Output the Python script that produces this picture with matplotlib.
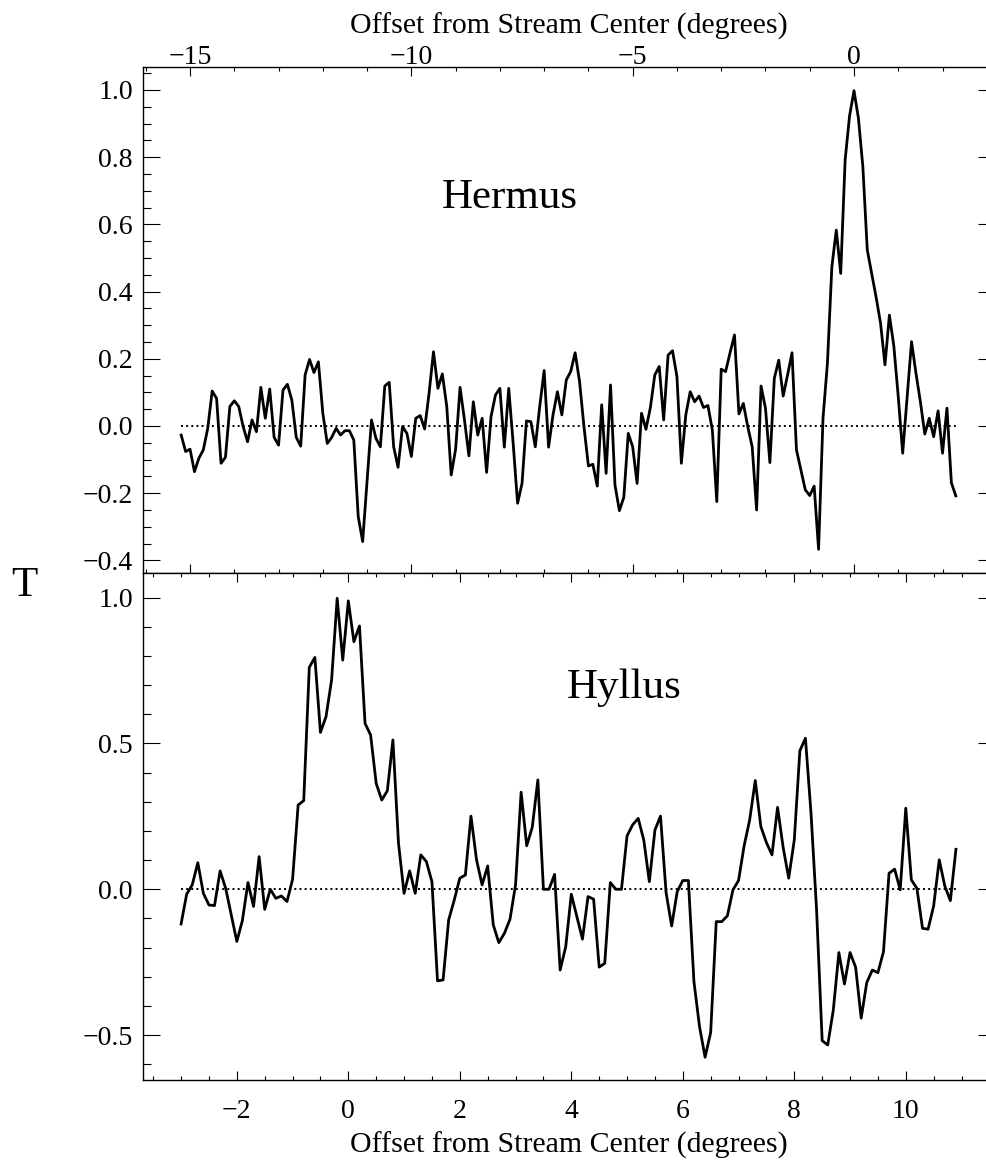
import numpy as np
import matplotlib
matplotlib.use("Agg")
import matplotlib.pyplot as plt
from matplotlib.ticker import MultipleLocator

plt.rcParams['font.family'] = ['Liberation Serif', 'DejaVu Serif']
plt.rcParams['font.size'] = 20

# 采样: 每 0.1 度一个点
hermus_x0, hermus_dx = -15.2, 0.1
hyllus_x0, hyllus_dx = -3.0, 0.1

# Hermus 剖面 (上图)
hermus_t = [-0.027, -0.076, -0.069, -0.136, -0.096, -0.071, -0.007, 0.104, 0.082, -0.111,
            -0.093, 0.058, 0.075, 0.058, -0.002, -0.047, 0.018, -0.017, 0.115, 0.023,
            0.110, -0.034, -0.057, 0.107, 0.124, 0.077, -0.034, -0.060, 0.152, 0.198,
            0.159, 0.191, 0.038, -0.052, -0.034, -0.007, -0.027, -0.014, -0.014, -0.042,
            -0.270, -0.344, -0.161, 0.018, -0.037, -0.062, 0.119, 0.130, -0.062, -0.123,
            -0.002, -0.022, -0.091, 0.023, 0.031, -0.009, 0.097, 0.221, 0.112, 0.155,
            0.058, -0.146, -0.069, 0.115, 0.018, -0.089, 0.072, -0.027, 0.023, -0.138,
            0.028, 0.092, 0.112, -0.063, 0.112, -0.052, -0.230, -0.171, 0.015, 0.013,
            -0.062, 0.058, 0.165, -0.063, 0.033, 0.102, 0.033, 0.137, 0.162, 0.218,
            0.132, -0.002, -0.119, -0.114, -0.179, 0.063, -0.141, 0.122, -0.176, -0.252,
            -0.212, -0.022, -0.062, -0.171, 0.038, -0.010, 0.055, 0.152, 0.177, 0.018,
            0.211, 0.224, 0.147, -0.111, 0.033, 0.102, 0.072, 0.089, 0.055, 0.061,
            -0.012, -0.225, 0.169, 0.162, 0.218, 0.271, 0.036, 0.067, -0.002, -0.062,
            -0.250, 0.119, 0.053, -0.109, 0.142, 0.196, 0.089, 0.152, 0.218, -0.071,
            -0.131, -0.190, -0.207, -0.179, -0.367, 0.023, 0.187, 0.474, 0.583, 0.454,
            0.792, 0.923, 0.998, 0.916, 0.772, 0.524, 0.454, 0.383, 0.306, 0.182,
            0.330, 0.238, 0.087, -0.081, 0.087, 0.251, 0.157, 0.072, -0.024, 0.023,
            -0.032, 0.045, -0.081, 0.053, -0.169, -0.208]

# Hyllus 剖面 (下图)
hyllus_t = [-0.119, -0.017, 0.015, 0.091, -0.014, -0.054, -0.056, 0.063, 0.003, -0.088,
            -0.179, -0.107, 0.023, -0.059, 0.112, -0.069, 0.000, -0.031, -0.023, -0.042,
            0.034, 0.289, 0.304, 0.761, 0.795, 0.538, 0.592, 0.718, 0.998, 0.786,
            0.989, 0.849, 0.903, 0.569, 0.529, 0.363, 0.306, 0.338, 0.512, 0.158,
            -0.014, 0.063, -0.014, 0.118, 0.095, 0.026, -0.314, -0.311, -0.105, -0.037,
            0.038, 0.049, 0.251, 0.101, 0.015, 0.080, -0.122, -0.183, -0.151, -0.103,
            0.015, 0.333, 0.149, 0.213, 0.375, 0.000, 0.000, 0.051, -0.277, -0.197,
            -0.017, -0.094, -0.171, -0.025, -0.034, -0.267, -0.254, 0.023, 0.000, 0.000,
            0.183, 0.221, 0.243, 0.169, 0.026, 0.203, 0.251, -0.011, -0.126, -0.008,
            0.030, 0.030, -0.317, -0.471, -0.576, -0.491, -0.111, -0.111, -0.091, -0.002,
            0.030, 0.149, 0.238, 0.373, 0.215, 0.160, 0.118, 0.281, 0.144, 0.038,
            0.169, 0.475, 0.518, 0.261, -0.071, -0.519, -0.534, -0.414, -0.217, -0.325,
            -0.217, -0.267, -0.442, -0.320, -0.277, -0.286, -0.214, 0.055, 0.069, -0.002,
            0.278, 0.032, 0.003, -0.134, -0.137, -0.057, 0.101, 0.011, -0.039, 0.137]

hermus_x = np.round(hermus_x0 + hermus_dx * np.arange(len(hermus_t)), 2)
hyllus_x = np.round(hyllus_x0 + hyllus_dx * np.arange(len(hyllus_t)), 2)

xlabel = 'Offset from Stream Center (degrees)'

fig = plt.figure(figsize=(9.86, 11.62), dpi=100)
ax1 = fig.add_axes([0.1447, 0.5069, 0.8644, 0.4352])
ax2 = fig.add_axes([0.1447, 0.0706, 0.8644, 0.4363])

# 上图: Hermus, x 轴标签在上方
ax1.plot(hermus_x, hermus_t, color='black', lw=2.0)
ax1.hlines(0, hermus_x[0], hermus_x[-1], colors='black', linestyles=':', lw=1.4)
ax1.set_xlim(-16.07, 3.185)
ax1.set_ylim(-0.4375, 1.0676)
ax1.xaxis.set_major_locator(MultipleLocator(5))
ax1.xaxis.set_minor_locator(MultipleLocator(1))
ax1.yaxis.set_major_locator(MultipleLocator(0.2))
ax1.yaxis.set_minor_locator(MultipleLocator(0.05))
ax1.xaxis.set_label_position('top')
ax1.set_xlabel(xlabel, labelpad=8, fontsize=21.5)
ax1.tick_params(axis='x', which='both', direction='in', top=True, bottom=True,
                labeltop=True, labelbottom=False, pad=-2)
ax1.text(-7.77, 0.649, 'Hermus', ha='center', va='baseline', fontsize=31)

# 下图: Hyllus
ax2.plot(hyllus_x, hyllus_t, color='black', lw=2.0)
ax2.hlines(0, hyllus_x[0], hyllus_x[-1], colors='black', linestyles=':', lw=1.4)
ax2.set_xlim(-3.689, 11.60)
ax2.set_ylim(-0.654, 1.0847)
ax2.xaxis.set_major_locator(MultipleLocator(2))
ax2.xaxis.set_minor_locator(MultipleLocator(0.5))
ax2.yaxis.set_major_locator(MultipleLocator(0.5))
ax2.yaxis.set_minor_locator(MultipleLocator(0.1))
ax2.set_xlabel(xlabel, labelpad=5, fontsize=21.5)
ax2.tick_params(axis='x', which='both', direction='in', top=True, bottom=True, pad=14)
ax2.text(4.94, 0.657, 'Hyllus', ha='center', va='baseline', fontsize=31)

for ax in (ax1, ax2):
    ax.tick_params(axis='x', which='major', length=6.5, width=0.8)
    ax.tick_params(axis='x', which='minor', length=3.2, width=0.8)
    ax.tick_params(axis='y', which='both', direction='in', left=True, right=True, pad=7)
    ax.tick_params(axis='y', which='major', length=12, width=0.8)
    ax.tick_params(axis='y', which='minor', length=6, width=0.8)
    for s in ax.spines.values():
        s.set_linewidth(1.0)

fig.text(24.5 / 986, 1 - 596 / 1162, 'T', ha='center', va='baseline', fontsize=31)

fig.savefig('out.png', dpi=100)
